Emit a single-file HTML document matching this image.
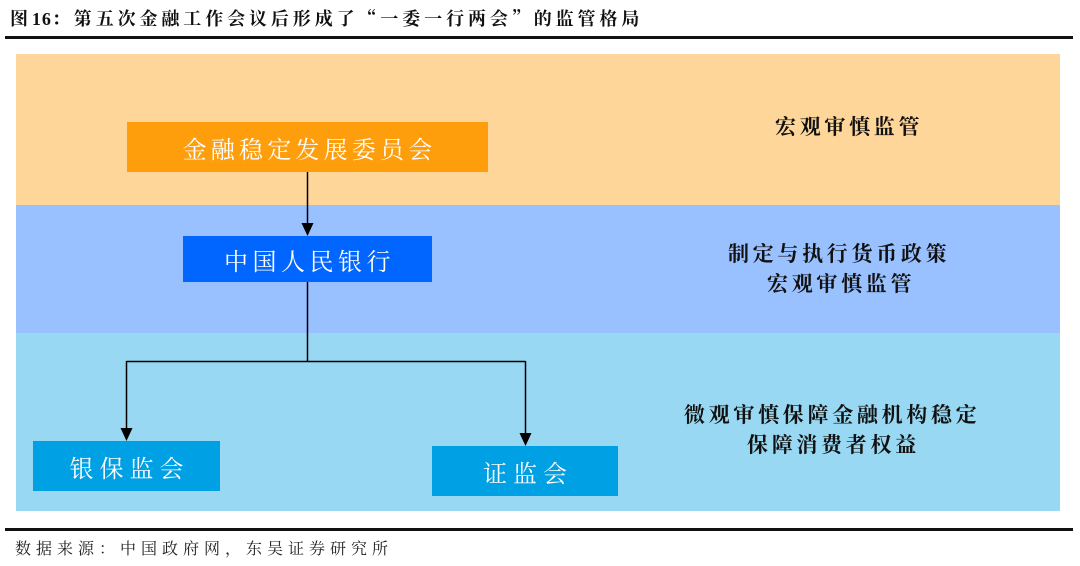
<!DOCTYPE html>
<html>
<head>
<meta charset="utf-8">
<style>
  html, body { margin: 0; padding: 0; }
  body { width: 1080px; height: 566px; background: #ffffff; position: relative; overflow: hidden; }
  .abs { position: absolute; }
  .title { left: 10px; top: 7px; font-family: "Noto Serif CJK SC", "Liberation Serif", serif; font-weight: bold; font-size: 18px; line-height: 22px; letter-spacing: 3.9px; color: #111; white-space: nowrap; }
  .title .num { font-family: "Liberation Serif", serif; font-weight: bold; letter-spacing: 1px; }
  .rule { left: 5px; width: 1068px; background: #111; }
  .band { left: 16px; width: 1044px; }
  .box { display: flex; align-items: center; justify-content: center; color: #fff; font-family: "Noto Serif CJK SC", "Liberation Serif", serif; font-size: 24px; white-space: nowrap; }
  .lbl { font-family: "Noto Serif CJK SC", "Liberation Serif", serif; font-weight: bold; font-size: 21px; line-height: 21px; letter-spacing: 3.7px; color: #111; white-space: nowrap; }
  .src { left: 15px; top: 539px; font-family: "Noto Serif CJK SC", "Liberation Serif", serif; font-size: 16px; line-height: 18px; letter-spacing: 5px; color: #222; white-space: nowrap; }
</style>
</head>
<body>
  <div class="abs title">图<span class="num">16</span>：第五次金融工作会议后形成了“一委一行两会”的监管格局</div>
  <div class="abs rule" style="top:36px;height:3px;"></div>

  <div class="abs band" style="top:54px;height:151px;background:#FFD699;"></div>
  <div class="abs band" style="top:205px;height:128px;background:#99C0FF;"></div>
  <div class="abs band" style="top:333px;height:178px;background:#99D8F2;"></div>

  <div class="abs box" style="left:127px;top:122px;width:361px;height:50px;background:#FF9E0D;letter-spacing:4.2px;padding-left:4px;box-sizing:border-box;">金融稳定发展委员会</div>
  <div class="abs box" style="left:183px;top:236px;width:249px;height:46px;background:#0066FF;letter-spacing:4.5px;padding-left:4px;box-sizing:border-box;">中国人民银行</div>
  <div class="abs box" style="left:33px;top:441px;width:187px;height:50px;background:#00A0E4;letter-spacing:6px;padding-left:6px;box-sizing:border-box;">银保监会</div>
  <div class="abs box" style="left:432px;top:446px;width:186px;height:50px;background:#00A0E4;letter-spacing:6px;padding-left:6px;box-sizing:border-box;">证监会</div>

  <div class="abs lbl" style="left:775px;top:116px;">宏观审慎监管</div>
  <div class="abs lbl" style="left:728px;top:243px;">制定与执行货币政策</div>
  <div class="abs lbl" style="left:767px;top:273px;">宏观审慎监管</div>
  <div class="abs lbl" style="left:684px;top:404px;">微观审慎保障金融机构稳定</div>
  <div class="abs lbl" style="left:747px;top:434px;">保障消费者权益</div>

  <svg class="abs" style="left:0;top:0;" width="1080" height="566" viewBox="0 0 1080 566">
    <g stroke="#000" stroke-width="1.5" fill="none">
      <line x1="307.5" y1="172" x2="307.5" y2="225"/>
      <line x1="307.5" y1="282" x2="307.5" y2="361.5"/>
      <line x1="126.5" y1="361.5" x2="525.5" y2="361.5"/>
      <line x1="126.5" y1="361" x2="126.5" y2="430"/>
      <line x1="525.5" y1="361" x2="525.5" y2="435"/>
    </g>
    <g fill="#000">
      <polygon points="301.5,223 313.5,223 307.5,236"/>
      <polygon points="120.5,428 132.5,428 126.5,441"/>
      <polygon points="519.5,433 531.5,433 525.5,446"/>
    </g>
  </svg>

  <div class="abs rule" style="top:528px;height:2.5px;"></div>
  <div class="abs src">数据来源：中国政府网，东吴证券研究所</div>
</body>
</html>
